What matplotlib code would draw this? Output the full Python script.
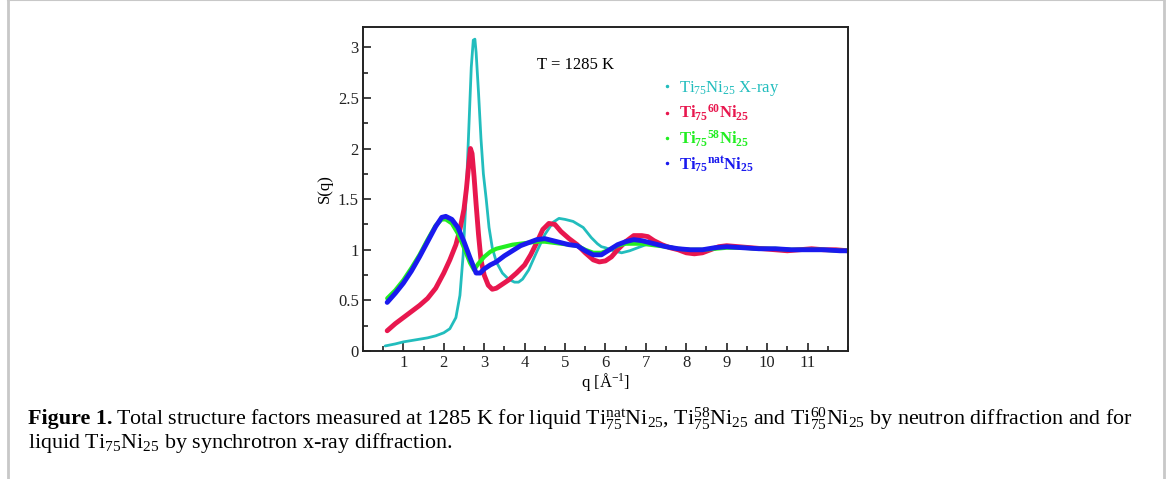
import matplotlib

matplotlib.use("Agg")
import matplotlib.pyplot as plt
from matplotlib.lines import Line2D
from matplotlib.ticker import MultipleLocator

plt.rcParams["font.family"] = ["Liberation Serif", "DejaVu Serif"]
plt.rcParams["mathtext.fontset"] = "custom"
plt.rcParams["mathtext.rm"] = "Liberation Serif"
plt.rcParams["mathtext.default"] = "regular"

# ---------------------------------------------------------------------------
# Data: S(q) vs q [1/Angstrom]
# ---------------------------------------------------------------------------
q_xray = [0.55, 0.8, 1.0, 1.3, 1.6, 1.8, 2.0, 2.15, 2.3, 2.4, 2.48, 2.55, 2.62,
          2.68, 2.73, 2.77, 2.80, 2.86, 2.92, 2.98, 3.05, 3.12, 3.2, 3.3, 3.45,
          3.6, 3.75, 3.85, 3.95, 4.1, 4.3, 4.5, 4.7, 4.85, 5.0, 5.2, 5.45, 5.65,
          5.8, 5.9, 6.0, 6.2, 6.4, 6.6, 6.8, 7.0, 7.2, 7.5, 7.8, 8.1, 8.4, 8.7,
          9.0, 9.4, 9.8, 10.2, 10.6, 11.0, 11.4, 11.8, 12.0]
s_xray = [0.05, 0.07, 0.09, 0.11, 0.13, 0.15, 0.18, 0.22, 0.33, 0.55, 0.95, 1.5,
          2.2, 2.8, 3.07, 3.08, 2.95, 2.55, 2.1, 1.75, 1.5, 1.22, 1.02, 0.88,
          0.77, 0.71, 0.68, 0.68, 0.71, 0.80, 0.98, 1.15, 1.27, 1.31, 1.30,
          1.28, 1.22, 1.12, 1.06, 1.03, 1.02, 0.99, 0.97, 0.99, 1.02, 1.05,
          1.06, 1.04, 1.01, 1.00, 1.00, 1.01, 1.03, 1.03, 1.01, 1.00, 1.00,
          1.00, 1.00, 0.99, 0.99]

q_ni60 = [0.6, 0.8, 1.0, 1.2, 1.4, 1.6, 1.8, 2.0, 2.15, 2.3, 2.4, 2.5, 2.56,
          2.62, 2.66, 2.7, 2.75, 2.8, 2.86, 2.92, 3.0, 3.1, 3.2, 3.3, 3.45, 3.6,
          3.8, 4.0, 4.15, 4.3, 4.45, 4.6, 4.75, 4.9, 5.1, 5.3, 5.5, 5.7, 5.85,
          6.0, 6.15, 6.3, 6.5, 6.7, 6.9, 7.05, 7.2, 7.4, 7.6, 7.8, 8.0, 8.2,
          8.4, 8.6, 8.8, 9.0, 9.3, 9.6, 9.9, 10.2, 10.5, 10.8, 11.1, 11.4, 11.7,
          12.0]
s_ni60 = [0.2, 0.27, 0.33, 0.39, 0.45, 0.52, 0.62, 0.77, 0.9, 1.05, 1.2, 1.4,
          1.6, 1.85, 2.0, 1.95, 1.72, 1.45, 1.15, 0.9, 0.75, 0.65, 0.61, 0.62,
          0.66, 0.7, 0.77, 0.85, 0.95, 1.07, 1.2, 1.26, 1.25, 1.18, 1.11, 1.05,
          0.97, 0.9, 0.88, 0.89, 0.93, 1.0, 1.08, 1.14, 1.14, 1.13, 1.09, 1.05,
          1.02, 1.0, 0.97, 0.96, 0.97, 1.0, 1.03, 1.04, 1.03, 1.02, 1.01, 1.0,
          0.99, 1.0, 1.01, 1.0, 1.0, 0.99]

q_ni58 = [0.6, 0.8, 1.0, 1.2, 1.4, 1.6, 1.8, 1.95, 2.05, 2.2, 2.35, 2.5, 2.65,
          2.75, 2.85, 3.0, 3.15, 3.3, 3.5, 3.7, 3.9, 4.1, 4.3, 4.5, 4.7, 4.9,
          5.1, 5.3, 5.5, 5.7, 5.9, 6.1, 6.3, 6.5, 6.7, 6.9, 7.1, 7.3, 7.5, 7.8,
          8.1, 8.4, 8.7, 9.0, 9.4, 9.8, 10.2, 10.6, 11.0, 11.4, 11.8, 12.0]
s_ni58 = [0.52, 0.6, 0.7, 0.82, 0.95, 1.1, 1.24, 1.30, 1.30, 1.26, 1.16, 1.02,
          0.87, 0.80, 0.86, 0.93, 0.98, 1.01, 1.03, 1.05, 1.06, 1.07, 1.08,
          1.08, 1.07, 1.06, 1.05, 1.04, 1.00, 0.97, 0.97, 1.0, 1.04, 1.06,
          1.06, 1.06, 1.05, 1.04, 1.03, 1.01, 1.0, 1.0, 1.01, 1.02, 1.02, 1.01,
          1.01, 1.0, 1.0, 1.0, 0.99, 0.99]

q_ninat = [0.6, 0.8, 1.0, 1.2, 1.4, 1.6, 1.8, 1.95, 2.05, 2.2, 2.35, 2.5, 2.65,
           2.8, 2.9, 3.0, 3.15, 3.3, 3.5, 3.7, 3.9, 4.1, 4.3, 4.5, 4.7, 4.9,
           5.1, 5.3, 5.5, 5.7, 5.9, 6.1, 6.3, 6.5, 6.7, 6.9, 7.1, 7.3, 7.5,
           7.8, 8.1, 8.4, 8.7, 9.0, 9.4, 9.8, 10.2, 10.6, 11.0, 11.4, 11.8, 12.0]
s_ninat = [0.48, 0.57, 0.67, 0.79, 0.93, 1.08, 1.23, 1.32, 1.33, 1.30, 1.22,
           1.08, 0.92, 0.77, 0.77, 0.81, 0.85, 0.88, 0.94, 0.99, 1.04, 1.07,
           1.10, 1.11, 1.09, 1.07, 1.05, 1.04, 0.99, 0.95, 0.95, 1.0, 1.05,
           1.08, 1.10, 1.09, 1.07, 1.05, 1.03, 1.01, 1.0, 1.0, 1.02, 1.03, 1.02,
           1.01, 1.01, 1.0, 1.0, 1.0, 0.99, 0.99]

labels = [
    r"Ti$_{75}$Ni$_{25}$ X-ray",
    r"Ti$_{75}$$^{60}$Ni$_{25}$",
    r"Ti$_{75}$$^{58}$Ni$_{25}$",
    r"Ti$_{75}$$^{nat}$Ni$_{25}$",
]
colors = ["#22bdbd", "#e8174e", "#22ee22", "#1a1aee"]
widths = [2.0, 3.5, 3.0, 3.5]

# ---------------------------------------------------------------------------
# Figure
# ---------------------------------------------------------------------------
fig = plt.figure(figsize=(11.67, 4.79), dpi=100)
ax = fig.add_axes([0.311, 0.2672, 0.4156, 0.6764])

series = [(q_xray, s_xray), (q_ni60, s_ni60), (q_ni58, s_ni58), (q_ninat, s_ninat)]
for (q, s), c, lw in zip(series, colors, widths):
    ax.plot(q, s, color=c, lw=lw, solid_capstyle="round")

ax.set_xlim(0, 12)
ax.set_ylim(0, 3.2)
ax.set_xticks(range(1, 12))
ax.xaxis.set_minor_locator(MultipleLocator(0.5))
ax.set_yticks([0, 0.5, 1, 1.5, 2, 2.5, 3])
ax.set_yticklabels(["0", "0.5", "1", "1.5", "2", "2.5", "3"])
ax.yaxis.set_minor_locator(MultipleLocator(0.25))
ax.tick_params(which="both", direction="in", top=False, right=False,
               labelsize=12, width=1.2, colors="#222222", pad=3)
ax.tick_params(which="major", length=6)
ax.tick_params(which="minor", length=3.5)
for sp in ax.spines.values():
    sp.set_linewidth(1.4)
    sp.set_color("#222222")

ax.set_xlabel(r"q [$\AA^{-1}$]", fontsize=12, labelpad=0)
ax.set_ylabel("S(q)", fontsize=12)
ax.yaxis.set_label_coords(-0.062, 0.5)

ax.text(4.3, 2.82, "T = 1285 K", fontsize=12, ha="left", va="center")

handles = [Line2D([], [], ls="none", marker=".", ms=3, color=c) for c in colors]
leg = ax.legend(handles, labels, loc="upper left", bbox_to_anchor=(0.595, 0.865),
                frameon=False, fontsize=12, handlelength=0.8, handletextpad=0.35,
                labelspacing=0.3, borderpad=0)
for i, (t, c) in enumerate(zip(leg.get_texts(), colors)):
    t.set_color(c)
    if i > 0:
        t.set_fontweight("bold")

# Page border
fig.add_artist(Line2D([7.5 / 1167, 7.5 / 1167], [0, 1], color="#c8c8c8", lw=2))
fig.add_artist(Line2D([1164 / 1167, 1164 / 1167], [0, 1], color="#c8c8c8", lw=2))
fig.add_artist(Line2D([7.5 / 1167, 1164 / 1167], [0.999, 0.999], color="#c8c8c8", lw=1.5))

# Caption, sized so the first line spans the same width as in the figure
x0, y1, y2 = 28 / 1167, 1 - 419 / 479, 1 - 443 / 479
line1 = (r"Total structure factors measured at 1285 K for liquid "
         r"Ti$_{75}^{nat}$Ni$_{25}$, Ti$_{75}^{58}$Ni$_{25}$ and "
         r"Ti$_{75}^{60}$Ni$_{25}$ by neutron diffraction and for")
line2 = r"liquid Ti$_{75}$Ni$_{25}$ by synchrotron x-ray diffraction."

cap_size = 14
head = fig.text(x0, y1, "Figure 1.", fontsize=cap_size, fontweight="bold", va="center")
body = fig.text(0, y1, line1, fontsize=cap_size, va="center")
fig.canvas.draw()
total = head.get_window_extent().width + 4 + body.get_window_extent().width
cap_size = cap_size * 1110 / total
head.set_fontsize(cap_size)
body.set_fontsize(cap_size)
fig.canvas.draw()
body.set_x((head.get_window_extent().x1 + 4) / 1167)
fig.text(x0, y2, line2, fontsize=cap_size, va="center")

fig.savefig("out.png", dpi=100)
